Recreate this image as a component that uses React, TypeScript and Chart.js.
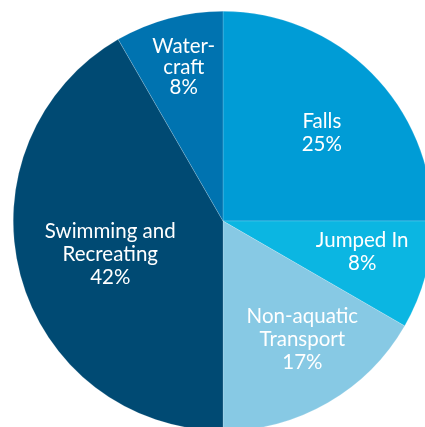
import React, { useEffect, useRef } from "react";
import { Chart, registerables } from "chart.js";

Chart.register(...registerables);

const categories = ["Falls", "Jumped In", "Non-aquatic Transport", "Swimming and Recreating", "Watercraft"];
const labelLines = [["Falls"], ["Jumped In"], ["Non-aquatic", "Transport"], ["Swimming and", "Recreating"], ["Water-", "craft"]];
const counts = [3, 1, 2, 5, 1];
const colors = ["#009cd6", "#0bb6e2", "#87c9e4", "#004a73", "#0073b0"];
const labelRadius = [0.63, 0.68, 0.68, 0.56, 0.757];
const labelAngleShift = [3.4, -2.4, -3.8, -1.3, 0.7];

const labelPlugin = {
  id: "sliceLabels",
  afterDatasetsDraw(chart: any) {
    const ctx = chart.ctx;
    const meta = chart.getDatasetMeta(0);
    const total = counts.reduce((a, b) => a + b, 0);
    ctx.save();
    ctx.fillStyle = "#ffffff";
    ctx.font = "20.5px Lato, 'Open Sans', sans-serif";
    ctx.textAlign = "center";
    ctx.textBaseline = "middle";
    meta.data.forEach((arc: any, i: number) => {
      const { x, y, startAngle, endAngle, outerRadius } = arc.getProps(["x", "y", "startAngle", "endAngle", "outerRadius"], true);
      const mid = (startAngle + endAngle) / 2 + (labelAngleShift[i] * Math.PI) / 180;
      const r = outerRadius * labelRadius[i];
      const cx = x + Math.cos(mid) * r;
      const cy = y + Math.sin(mid) * r;
      const lines = [...labelLines[i], Math.round((counts[i] / total) * 100) + "%"];
      const lh = i === 4 ? 20.5 : 23;
      const top = cy - ((lines.length - 1) * lh) / 2;
      lines.forEach((ln, k) => ctx.fillText(ln, cx, top + k * lh));
    });
    ctx.restore();
  },
};

export default function App() {
  const ref = useRef<HTMLCanvasElement>(null);
  useEffect(() => {
    if (!ref.current) return;
    const chart = new Chart(ref.current, {
      type: "pie",
      data: {
        labels: categories,
        datasets: [
          {
            data: counts,
            backgroundColor: colors,
            borderColor: "rgba(255,255,255,0.35)",
            borderWidth: 0.5,
          },
        ],
      },
      options: {
        animation: false,
        responsive: true,
        maintainAspectRatio: false,
        layout: { padding: 11 },
        plugins: { legend: { display: false }, tooltip: { enabled: false } },
      },
      plugins: [labelPlugin],
    });
    return () => chart.destroy();
  }, []);
  return (
    <div style={{ position: "fixed", left: 0, top: 0, width: 446, height: 442, background: "#fff" }}>
      <canvas ref={ref} />
    </div>
  );
}
